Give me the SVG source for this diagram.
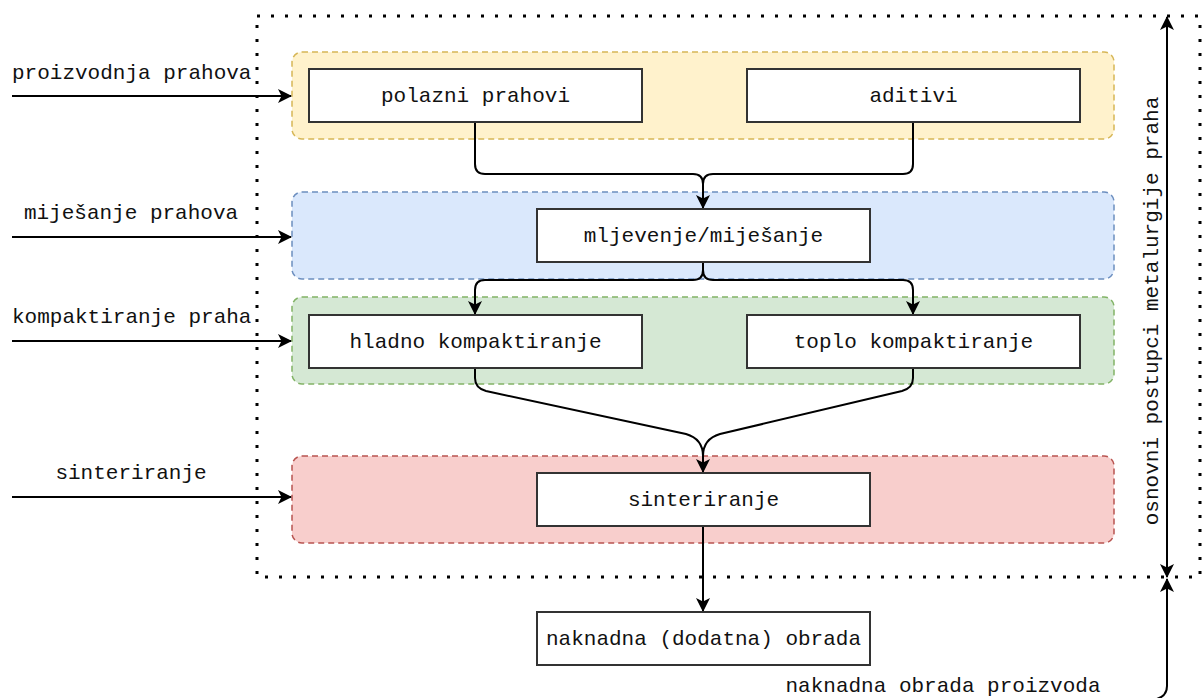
<svg xmlns="http://www.w3.org/2000/svg" width="1203" height="698" viewBox="0 0 1203 698">
<style>
text{font-family:"Liberation Mono","Courier New",monospace;font-size:21px;fill:#111}
.c{text-anchor:middle}
.box{fill:#fff;stroke:#333;stroke-width:2}
.grp{stroke-width:1.5;stroke-dasharray:6 4}
.ln{fill:none;stroke:#000;stroke-width:2}
</style>
<defs>
<marker id="ah" viewBox="0 0 14 14" refX="13" refY="7" markerWidth="14" markerHeight="14" markerUnits="userSpaceOnUse" orient="auto-start-reverse">
<path d="M0,0 L14,7 L0,14 L3.5,7 Z" fill="#000"/>
</marker>
</defs>
<rect x="0" y="0" width="1203" height="698" fill="#fff"/>
<g id="frame">
<rect x="257" y="16" width="943" height="561" fill="none" stroke="#000" stroke-width="3" stroke-dasharray="3 11"/>
</g>
<g id="grp-yellow"><rect class="grp" x="292" y="52" width="822" height="87" rx="10" fill="#fff2cc" stroke="#d6b656"/></g>
<g id="grp-blue"><rect class="grp" x="292" y="192" width="822" height="87" rx="10" fill="#dae8fc" stroke="#6c8ebf"/></g>
<g id="grp-green"><rect class="grp" x="292" y="297" width="822" height="87" rx="10" fill="#d5e8d4" stroke="#82b366"/></g>
<g id="grp-red"><rect class="grp" x="292" y="456" width="822" height="87" rx="10" fill="#f8cecc" stroke="#b85450"/></g>
<g id="connectors">
<path class="ln" d="M12,96 L291,96" marker-end="url(#ah)"/>
<path class="ln" d="M12,237 L291,237" marker-end="url(#ah)"/>
<path class="ln" d="M12,341 L291,341" marker-end="url(#ah)"/>
<path class="ln" d="M12,497 L291,497" marker-end="url(#ah)"/>
<path class="ln" d="M475,122 L475,164 Q475,174 485,174 L693,174 Q703,174 703,184 L703,208" marker-end="url(#ah)"/>
<path class="ln" d="M913,122 L913,164 Q913,174 903,174 L713,174 Q703,174 703,184 L703,208"/>
<path class="ln" d="M703,262 L703,270 Q703,280 693,280 L485,280 Q475,280 475,290 L475,314" marker-end="url(#ah)"/>
<path class="ln" d="M703,262 L703,270 Q703,280 713,280 L903,280 Q913,280 913,290 L913,314" marker-end="url(#ah)"/>
<path class="ln" d="M475,368 L475,378 Q475,388 486,391 L686,434 Q703,439 703,456 L703,472" marker-end="url(#ah)"/>
<path class="ln" d="M913,368 L913,378 Q913,388 902,391 L720,434 Q703,439 703,456 L703,472"/>
<path class="ln" d="M703,526 L703,611" marker-end="url(#ah)"/>
<path class="ln" d="M1167,577 L1167,17" marker-start="url(#ah)" marker-end="url(#ah)"/>
<path class="ln" d="M1152,700 Q1167,698 1167,686 L1167,579" marker-end="url(#ah)"/>
</g>
<g id="n-polazni"><rect class="box" x="309" y="69" width="333" height="53"/><text class="c" x="475.5" y="102">polazni prahovi</text></g>
<g id="n-aditivi"><rect class="box" x="747" y="69" width="333" height="53"/><text class="c" x="913.5" y="102">aditivi</text></g>
<g id="n-mljevenje"><rect class="box" x="537" y="209" width="333" height="53"/><text class="c" x="703.5" y="242">mljevenje/miješanje</text></g>
<g id="n-hladno"><rect class="box" x="309" y="315" width="333" height="53"/><text class="c" x="475.5" y="348">hladno kompaktiranje</text></g>
<g id="n-toplo"><rect class="box" x="747" y="315" width="333" height="53"/><text class="c" x="913.5" y="348">toplo kompaktiranje</text></g>
<g id="n-sinter"><rect class="box" x="537" y="473" width="333" height="53"/><text class="c" x="703.5" y="506">sinteriranje</text></g>
<g id="n-naknadna"><rect class="box" x="537" y="612" width="333" height="53"/><text class="c" x="703.5" y="645">naknadna (dodatna) obrada</text></g>
<g id="labels">
<text x="12" y="79">proizvodnja prahova</text>
<text class="c" x="131" y="219">miješanje prahova</text>
<text x="12" y="323">kompaktiranje praha</text>
<text class="c" x="131" y="479">sinteriranje</text>
<text class="c" x="943" y="692">naknadna obrada proizvoda</text>
<text class="c" transform="translate(1158,311) rotate(-90)">osnovni postupci metalurgije praha</text>
</g>
</svg>
